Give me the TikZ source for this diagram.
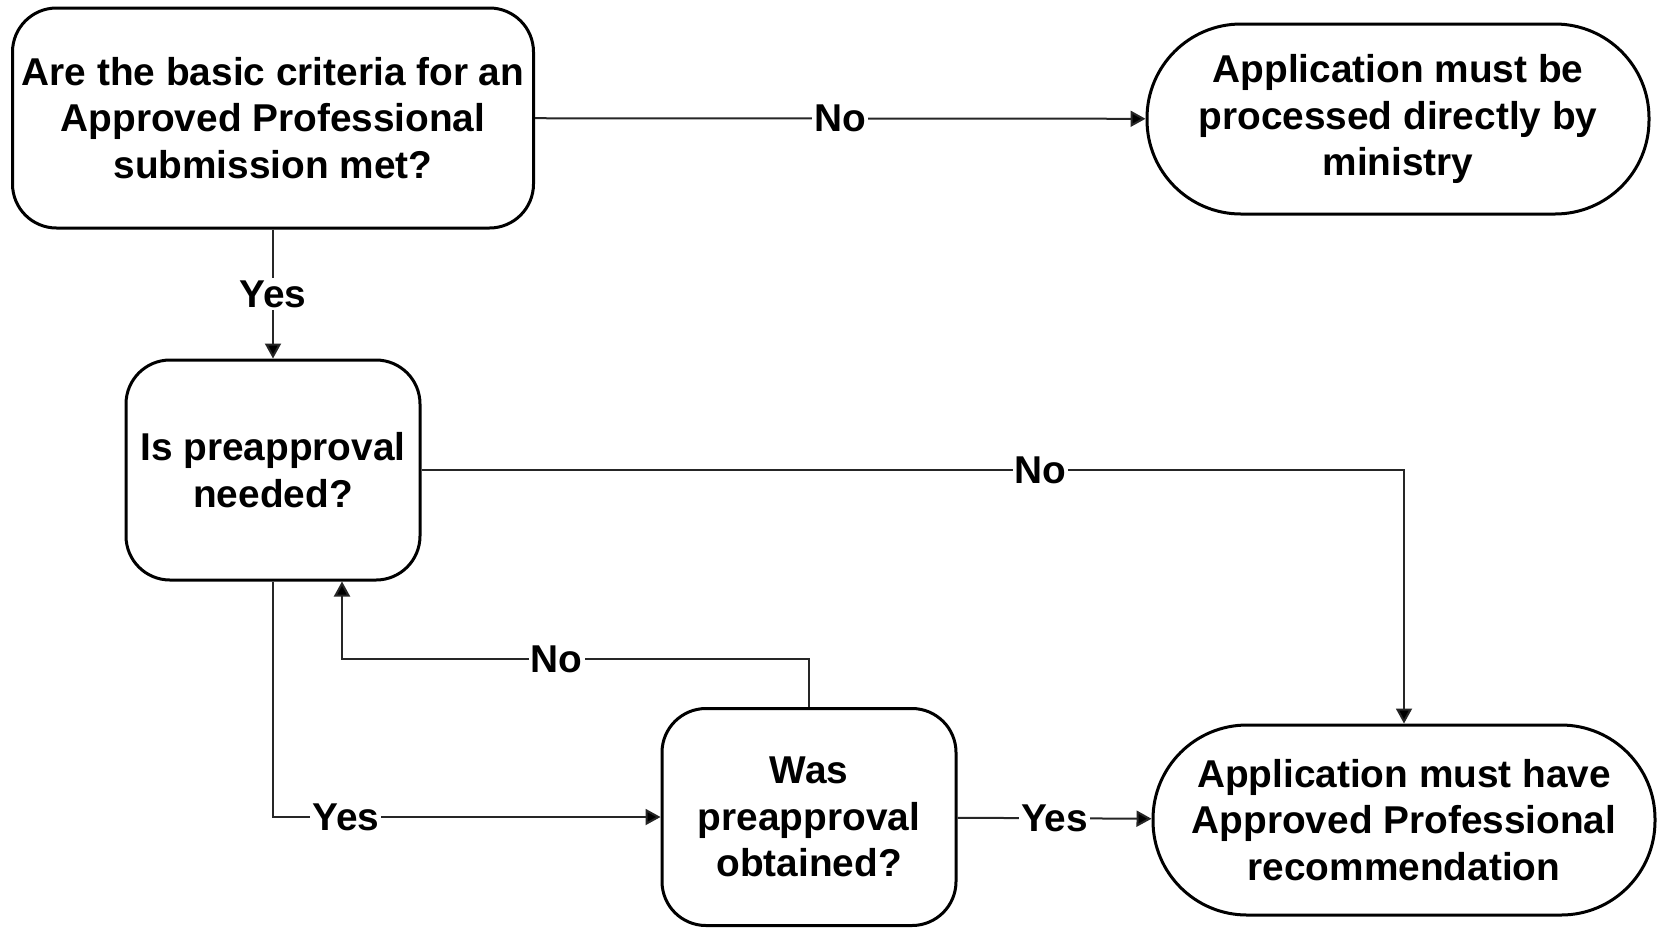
\documentclass[tikz,border=0pt]{standalone}
\usepackage{fontspec}
\setmainfont{Liberation Sans}
\usetikzlibrary{arrows.meta}

\begin{document}
\begin{tikzpicture}[
    x=0.5pt, y=-0.5pt,
    every node/.style={
        font=\fontsize{19.4}{23.3}\selectfont\bfseries,
        align=center,
    },
    question/.style={
        draw, line width=1.5pt, rounded corners=22pt,
        minimum width=147pt, minimum height=110pt,
    },
    outcome/.style={
        draw, line width=1.5pt, rounded corners=47pt,
        minimum width=251pt, minimum height=95pt,
    },
    flow/.style={
        draw=black!85, line width=1pt,
        -{Triangle[length=7.5pt,width=8pt,fill=black]},
    },
    answer/.style={fill=white, inner sep=1pt},
    ]
    \useasboundingbox (0,0) rectangle (1658,928);
    \node [question, minimum width=260.5pt, at={(273,118)}] (a)
        {Are the basic criteria for an\\Approved Professional\\submission met?};
    \node [outcome, at={(1398,119)}] (b)
        {Application must be\\processed directly by\\ministry};
    \node [question, at={(273,470)}] (c) {Is preapproval\\needed?};
    \node [question, minimum height=108.5pt, at={(809,817)}] (d)
        {Was\\preapproval\\obtained?};
    \node [outcome, at={(1404,820)}] (e)
        {Application must have\\Approved Professional\\recommendation};
    \coordinate (back) at (342,659);
    % answers
    \draw [flow] (a) -- node [answer] {No} (b);
    \draw [flow] (a) -- node [answer] {Yes} (c);
    \draw [flow] (c.east) -| node [answer, pos=0.315] {No} (e.north);
    \draw [flow] (c.south) |- node [answer, pos=0.594] {Yes} (d.west);
    \draw [flow] (d.north) |- node [answer, pos=0.77] {No} (back)
        -- (back |- c.south);
    \draw [flow] (d) -- node [answer] {Yes} (e);
\end{tikzpicture}
\end{document}
